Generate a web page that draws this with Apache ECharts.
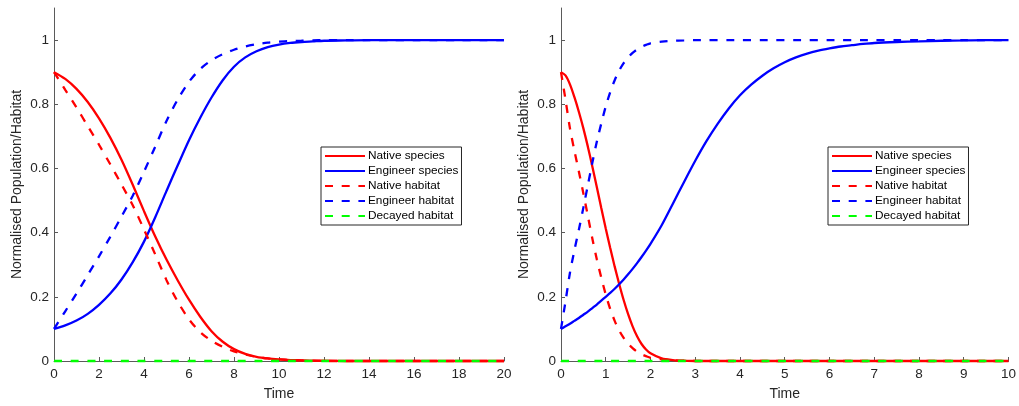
<!DOCTYPE html>
<html><head><meta charset="utf-8">
<script src="https://cdn.jsdelivr.net/npm/echarts@6/dist/echarts.min.js"></script>
<style>html,body{margin:0;padding:0;background:#fff}#c{width:1019px;height:406px}</style>
</head><body><div id="c"></div>
<script>
// ---------- Data ----------
const seriesNames = ['Native species', 'Engineer species', 'Native habitat', 'Engineer habitat', 'Decayed habitat'];
const yTicks = [0, 0.2, 0.4, 0.6, 0.8, 1];

// Left panel (time 0..20)
const timeLeft = [0,0.5,1,1.5,2,2.5,3,3.5,4,4.5,5,5.5,6,6.5,7,7.5,8,8.5,9,9.5,10,10.5,11,11.5,12,13,14,15,16,17,18,19,20];
const nativeSpeciesLeft = [0.900,0.879,0.848,0.807,0.756,0.696,0.627,0.549,0.467,0.388,0.316,0.251,0.191,0.138,0.093,0.060,0.037,0.022,0.013,0.008,0.005,0.003,0.002,0.001,0.001,0,0,0,0,0,0,0,0];
const engineerSpeciesLeft = [0.100,0.111,0.126,0.147,0.175,0.210,0.254,0.308,0.372,0.448,0.530,0.610,0.688,0.758,0.821,0.875,0.917,0.946,0.965,0.978,0.986,0.991,0.994,0.996,0.998,0.999,1,1,1,1,1,1,1];
const nativeHabitatLeft = [0.900,0.845,0.790,0.732,0.674,0.613,0.550,0.485,0.410,0.332,0.252,0.185,0.130,0.090,0.063,0.044,0.030,0.020,0.013,0.008,0.005,0.003,0.002,0.001,0,0,0,0,0,0,0,0,0];
const engineerHabitatLeft = [0.100,0.155,0.210,0.268,0.326,0.387,0.450,0.515,0.590,0.668,0.748,0.815,0.870,0.910,0.937,0.956,0.970,0.980,0.987,0.992,0.995,0.997,0.998,0.999,1,1,1,1,1,1,1,1,1];
const decayedHabitatLeft = [0,0,0,0,0,0,0,0,0,0,0,0,0,0,0,0,0,0,0,0,0,0,0,0,0,0,0,0,0,0,0,0,0];

// Right panel (time 0..10)
const timeRight = [0,0.1,0.2,0.3,0.4,0.5,0.6,0.7,0.8,0.9,1.0,1.1,1.2,1.3,1.4,1.5,1.6,1.7,1.8,1.9,2.0,2.25,2.5,2.75,3.0,3.25,3.5,3.75,4.0,4.25,4.5,4.75,5.0,5.25,5.5,5.75,6.0,6.25,6.5,6.75,7.0,7.5,8,8.5,9,9.5,10];
const nativeSpeciesRight = [0.900,0.890,0.862,0.822,0.776,0.725,0.668,0.606,0.542,0.477,0.413,0.352,0.294,0.240,0.190,0.146,0.108,0.077,0.053,0.036,0.024,0.008,0.003,0.001,0,0,0,0,0,0,0,0,0,0,0,0,0,0,0,0,0,0,0,0,0,0,0];
const engineerSpeciesRight = [0.100,0.108,0.116,0.125,0.134,0.144,0.154,0.165,0.176,0.188,0.200,0.212,0.225,0.239,0.254,0.270,0.287,0.305,0.324,0.344,0.365,0.423,0.490,0.558,0.624,0.685,0.739,0.787,0.828,0.861,0.889,0.912,0.931,0.946,0.958,0.967,0.974,0.980,0.984,0.988,0.991,0.994,0.996,0.998,0.999,1.0,1.0];
const nativeHabitatRight = [0.900,0.815,0.725,0.655,0.590,0.522,0.452,0.382,0.317,0.260,0.207,0.162,0.125,0.095,0.072,0.054,0.040,0.029,0.021,0.015,0.010,0.005,0.002,0.001,0,0,0,0,0,0,0,0,0,0,0,0,0,0,0,0,0,0,0,0,0,0,0];
const engineerHabitatRight = [0.100,0.185,0.275,0.345,0.410,0.478,0.548,0.618,0.683,0.740,0.793,0.838,0.875,0.905,0.928,0.946,0.960,0.971,0.979,0.985,0.990,0.995,0.998,0.999,1,1,1,1,1,1,1,1,1,1,1,1,1,1,1,1,1,1,1,1,1,1,1];
const decayedHabitatRight = [0,0,0,0,0,0,0,0,0,0,0,0,0,0,0,0,0,0,0,0,0,0,0,0,0,0,0,0,0,0,0,0,0,0,0,0,0,0,0,0,0,0,0,0,0,0,0];

// ---------- Styling ----------
const colors = ['#ff0000', '#0000ff', '#ff0000', '#0000ff', '#00ff00'];
const dashed = [false, false, true, true, true];
const axisColor = '#5a5a5a';
const labelColor = '#262626';
const fontFamily = '"Liberation Sans", Arial, Helvetica, sans-serif';

function pairs(t, v) { return t.map((x, i) => [x, v[i]]); }

const panels = [
  { t: timeLeft, vals: [nativeSpeciesLeft, engineerSpeciesLeft, nativeHabitatLeft, engineerHabitatLeft, decayedHabitatLeft], xmax: 20, xint: 2, grid: { left: 54, right: 515, top: 8, bottom: 43 }, legendLeft: 321 },
  { t: timeRight, vals: [nativeSpeciesRight, engineerSpeciesRight, nativeHabitatRight, engineerHabitatRight, decayedHabitatRight], xmax: 10, xint: 1, grid: { left: 561, right: 8, top: 8, bottom: 43 }, legendLeft: 828 }
];

const option = {
  backgroundColor: '#ffffff',
  animation: false,
  textStyle: { fontFamily },
  grid: panels.map(p => p.grid),
  xAxis: panels.map((p, i) => ({
    type: 'value', gridIndex: i, min: 0, max: p.xmax, interval: p.xint,
    name: 'Time', nameLocation: 'middle', nameGap: 26,
    nameTextStyle: { color: labelColor, fontSize: 14, fontFamily },
    axisLine: { onZero: false, lineStyle: { color: axisColor, width: 1 } },
    axisTick: { inside: true, length: 4, lineStyle: { color: axisColor } },
    axisLabel: { color: labelColor, fontSize: 13.5, margin: 6, fontFamily },
    splitLine: { show: false }
  })),
  yAxis: panels.map((p, i) => ({
    type: 'value', gridIndex: i, min: 0, max: 1.1, interval: 0.2,
    name: 'Normalised Population/Habitat', nameLocation: 'middle', nameGap: 30,
    nameTextStyle: { color: labelColor, fontSize: 14, fontFamily },
    axisLine: { show: true, onZero: false, lineStyle: { color: axisColor, width: 1 } },
    axisTick: { show: true, inside: true, length: 4, customValues: yTicks, lineStyle: { color: axisColor } },
    axisLabel: { color: labelColor, fontSize: 13.5, margin: 5, fontFamily, customValues: yTicks,
      formatter: v => (Math.round(v * 10) / 10).toString() },
    splitLine: { show: false }
  })),
  legend: panels.map((p, i) => ({
    data: seriesNames.map(n => ({ name: n })),
    orient: 'vertical', left: p.legendLeft, top: 147,
    itemWidth: 40, itemHeight: 12, itemGap: 3,
    padding: [3, 3, 3, 3],
    backgroundColor: '#ffffff', borderColor: '#262626', borderWidth: 1,
    selectedMode: false,
    itemStyle: { opacity: 0 },
    textStyle: { color: '#000000', fontSize: 11.8, lineHeight: 12, fontFamily, padding: [0, 0, 0, -2] }
  })),
  series: []
};

panels.forEach((p, pi) => {
  p.vals.forEach((v, si) => {
    option.series.push({
      type: 'line', name: seriesNames[si], xAxisIndex: pi, yAxisIndex: pi,
      data: pairs(p.t, v), symbol: 'none', smooth: 0.3, clip: false,
      lineStyle: { color: colors[si], width: 2.3, type: dashed[si] ? [8, 8.7] : 'solid' },
      itemStyle: { color: colors[si] },
      emphasis: { disabled: true }
    });
  });
});

const chart = echarts.init(document.getElementById('c'), null, { renderer: 'canvas' });
chart.setOption(option);
</script>
</body></html>
